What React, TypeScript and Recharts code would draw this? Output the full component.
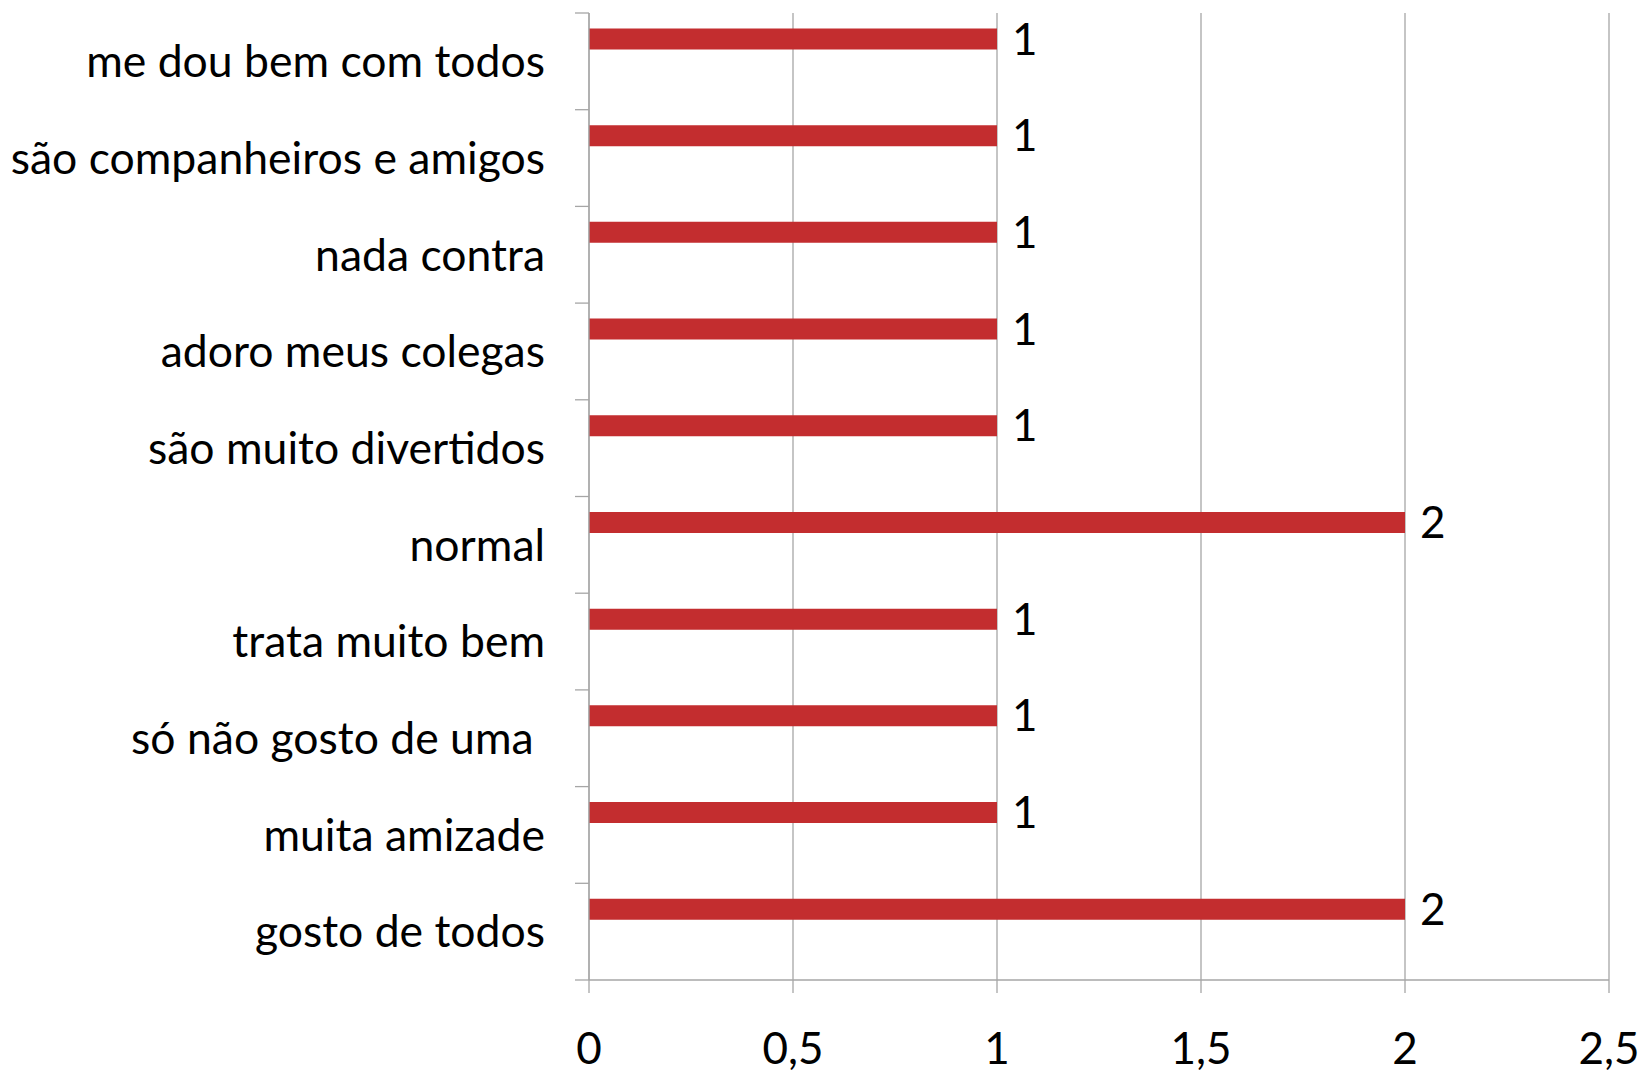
import { BarChart, Bar, XAxis, YAxis, CartesianGrid, LabelList } from "recharts"

const categories = [
  "me dou bem com todos",
  "são companheiros e amigos",
  "nada contra",
  "adoro meus colegas",
  "são muito divertidos",
  "normal",
  "trata muito bem",
  "só não gosto de uma\u00a0",
  "muita amizade",
  "gosto de todos",
]

const values = [1, 1, 1, 1, 1, 2, 1, 1, 1, 2]

const xTicks = [0, 0.5, 1, 1.5, 2, 2.5]

const FONT = "Lato, 'Open Sans', sans-serif"
const BAR_COLOR = "#C32D2F"
const GRID_COLOR = "#A6A6A6"

const data = categories.map((name, i) => ({ name, value: values[i], empty: null }))

// the helper axis spans the row indexes 0..n-1 over the full plot height,
// so the category boundaries fall at these values
const n = categories.length
const bandTicks = Array.from({ length: n + 1 }, (_, k) => ((n - 1) * (n - k)) / n)

export default function App() {
  return (
    <div style={{ position: "absolute", left: 0, top: 0, background: "#fff" }}>
      <BarChart
        width={1643}
        height={1072}
        data={data}
        layout="vertical"
        margin={{ top: 13, right: 34, left: 0, bottom: 0 }}
        barCategoryGap="16%"
        barGap={24}
      >
        <CartesianGrid horizontal={false} stroke={GRID_COLOR} strokeWidth={1.3} />
        <XAxis
          type="number"
          domain={[0, 2.5]}
          ticks={xTicks}
          interval={0}
          height={92}
          tickSize={13}
          tickMargin={40}
          stroke={GRID_COLOR}
          strokeWidth={1.3}
          tickFormatter={(v: number) => String(v).replace(".", ",")}
          tick={{ fill: "#000", fontSize: 44, fontFamily: FONT }}
        />
        {/* axis line + tick marks between categories, sits next to the plot */}
        <YAxis
          yAxisId={0}
          type="number"
          ticks={bandTicks}
          interval={0}
          width={1}
          tick={() => null}
          tickSize={14}
          stroke={GRID_COLOR}
          strokeWidth={1.3}
        />
        <YAxis
          yAxisId="cat"
          type="category"
          dataKey="name"
          width={588}
          interval={0}
          tickLine={false}
          tickSize={0}
          tickMargin={43}
          axisLine={false}
          tick={{ fill: "#000", fontSize: 44.5, fontFamily: FONT }}
        />
        <Bar yAxisId="cat" dataKey="value" fill={BAR_COLOR} isAnimationActive={false}>
          <LabelList
            dataKey="value"
            position="right"
            offset={15}
            fill="#000"
            style={{ fontSize: 44, fontFamily: FONT }}
          />
        </Bar>
        <Bar yAxisId="cat" dataKey="empty" fill={BAR_COLOR} isAnimationActive={false} />
      </BarChart>
    </div>
  )
}
